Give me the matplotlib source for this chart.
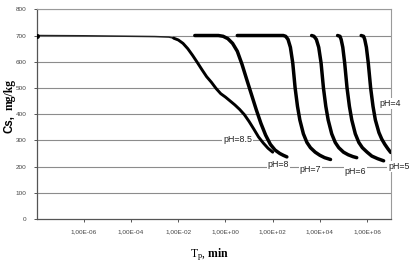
import numpy as np
import matplotlib
matplotlib.use("Agg")
import matplotlib.pyplot as plt
from matplotlib.ticker import FixedLocator, FuncFormatter

plt.rcParams['mathtext.fontset'] = 'custom'
plt.rcParams['mathtext.rm'] = 'Liberation Serif'
plt.rcParams['mathtext.bf'] = 'Liberation Serif:bold'

# ---- data: log10(time, min) and Cs (mg/kg) ----
ph85_logt = [-8, -6, -4, -3, -2.4, -2.2, -2.0, -1.8, -1.6, -1.4, -1.2, -1.0, -0.8, -0.6,
             -0.4, -0.2, 0.0, 0.2, 0.4, 0.6, 0.8, 1.0, 1.2, 1.4, 1.6, 1.8, 2.0]
ph85_cs = [700, 699, 697, 696, 694, 690, 683, 670, 650, 625, 598, 570, 543, 522,
           498, 478, 465, 450, 435, 418, 398, 372, 343, 313, 290, 270, 255]

ph8_logt = [-1.3, -0.8, -0.3, -0.1, 0.1, 0.3, 0.5, 0.7, 0.9, 1.1, 1.3, 1.5, 1.7, 1.9,
            2.1, 2.3, 2.45, 2.6]
ph8_cs = [700, 700, 700, 697, 688, 670, 640, 590, 532, 475, 418, 365, 320, 285,
          263, 250, 243, 237]

ph7_logt = [0.5, 1.5, 2.45, 2.55, 2.65, 2.75, 2.85, 2.95, 3.05, 3.15, 3.3, 3.45, 3.6,
            3.8, 4.0, 4.2, 4.45]
ph7_cs = [700, 700, 700, 697, 685, 655, 595, 500, 430, 378, 325, 292, 272,
          255, 243, 234, 227]

ph6_logt = [3.65, 3.75, 3.85, 3.95, 4.05, 4.15, 4.25, 4.35, 4.5, 4.65, 4.8, 5.0,
            5.2, 5.4, 5.56]
ph6_cs = [700, 697, 685, 655, 595, 500, 430, 378, 325, 292, 272, 255,
          245, 238, 234]

ph5_logt = [4.75, 4.85, 4.9, 4.97, 5.05, 5.15, 5.25, 5.35, 5.5, 5.65, 5.8, 6.0,
            6.2, 6.45, 6.7]
ph5_cs = [700, 697, 685, 655, 595, 500, 430, 378, 325, 292, 272, 255,
          240, 230, 222]

ph4_logt = [5.75, 5.85, 5.9, 5.97, 6.05, 6.15, 6.25, 6.35, 6.5, 6.62, 6.75, 6.88, 7.0]
ph4_cs = [700, 697, 685, 655, 595, 500, 430, 378, 330, 305, 285, 268, 254]

labels = ["pH=8.5", "pH=8", "pH=7", "pH=6", "pH=5", "pH=4"]
label_logt = [0.52, 2.25, 3.6, 5.5, 7.35, 6.99]
label_cs = [305, 209, 190, 181, 199, 441]

yticks = [0, 100, 200, 300, 400, 500, 600, 700, 800]
xtick_exp = [-6, -4, -2, 0, 2, 4, 6]

# ---- figure ----
fig = plt.figure(figsize=(4.14, 2.63), dpi=100)
ax = fig.add_axes([36.7 / 414, 1 - 219 / 263, (390.7 - 36.7) / 414, (219 - 9.3) / 263])
ax.set_xscale('log')
ax.set_xlim(1e-8, 1e7)
ax.set_ylim(0, 800)

for v in yticks[1:]:
    ax.axhline(v, color='#8c8c8c', lw=0.8, zorder=1)

curves = [(ph85_logt, ph85_cs), (ph8_logt, ph8_cs), (ph7_logt, ph7_cs),
          (ph6_logt, ph6_cs), (ph5_logt, ph5_cs), (ph4_logt, ph4_cs)]
for i, (lt, cs) in enumerate(curves):
    lt = np.array(lt, dtype=float)
    t = 10.0 ** lt
    cs = np.array(cs, dtype=float)
    if i == 0:
        thin = lt <= -2.2
        ax.plot(t[thin], cs[thin], color='#222222', lw=1.1, zorder=3)
        ax.plot(t[:1], cs[:1], 'o', color='black', ms=2.5, zorder=4)
        thick = lt >= -2.2
        ax.plot(t[thick], cs[thick], color='black', lw=2.1, zorder=3,
                solid_capstyle='round')
    else:
        ax.plot(t, cs, color='black', lw=2.5, zorder=3, solid_capstyle='round')

for lab, lt, cs in zip(labels, label_logt, label_cs):
    ax.text(10.0 ** lt, cs, lab, fontsize=6.4, family='Liberation Sans',
            color='#222222', ha='center', va='center', zorder=5, clip_on=False,
            bbox=dict(boxstyle='square,pad=0.1', fc='white', ec='none'))

ax.yaxis.set_major_locator(FixedLocator(yticks))
ax.xaxis.set_major_locator(FixedLocator([10.0 ** e for e in xtick_exp]))
ax.xaxis.set_minor_locator(FixedLocator([]))
ax.xaxis.set_major_formatter(FuncFormatter(
    lambda v, p: "1,00E{:+03d}".format(int(round(np.log10(v))))))
ax.tick_params(axis='both', which='major', labelsize=4.6, colors='#555555',
               length=2.5, width=0.7, direction='out', pad=5)
for lbl in ax.get_xticklabels() + ax.get_yticklabels():
    lbl.set_family('Liberation Sans')
    lbl.set_color('#444444')

for s in ['left', 'bottom']:
    ax.spines[s].set_color('#555555')
    ax.spines[s].set_linewidth(0.9)
for s in ['right', 'top']:
    ax.spines[s].set_color('#9a9a9a')
    ax.spines[s].set_linewidth(0.8)

fig.text(210 / 414, 1 - 255 / 263, r"$\mathrm{T_p}$, $\mathbf{min}$",
         fontsize=8.5, family='Liberation Serif', ha='center', va='center')
fig.text(10 / 414, 1 - 124 / 263, "Cs,", fontsize=8.3, rotation=90,
         family='Liberation Sans', fontweight='bold', ha='center', va='center')
fig.text(10 / 414, 1 - 95 / 263, "mg/kg", fontsize=8.3, rotation=90,
         family='Liberation Serif', fontweight='bold', ha='center', va='center')

fig.savefig("out.png", dpi=100)
